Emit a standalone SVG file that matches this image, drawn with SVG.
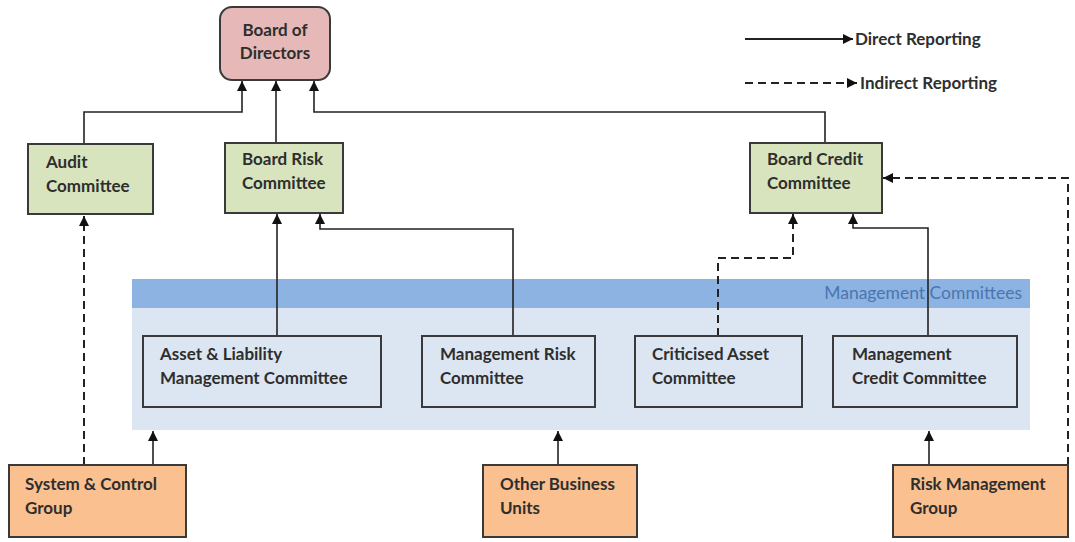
<svg xmlns="http://www.w3.org/2000/svg" width="1075" height="542" viewBox="0 0 1075 542">
<defs>
<marker id="ah" viewBox="0 0 10 10" refX="10" refY="5" markerWidth="10" markerHeight="10" markerUnits="userSpaceOnUse" orient="auto"><path d="M0,0 L10,5 L0,10 z" fill="#111"/></marker>
<style>
.t{font-family:Lato,"Liberation Sans",sans-serif;font-size:17px;font-weight:bold;fill:#2e2e2e}
.box{stroke:#3a3a3a;stroke-width:2}
.c{fill:none;stroke:#222;stroke-width:1.6}
.d{fill:none;stroke:#222;stroke-width:2;stroke-dasharray:8 5}
</style>
</defs>
<rect width="1075" height="542" fill="#fff"/>
<g id="band">
<rect x="132" y="279" width="898" height="151" fill="#dce6f2"/>
<rect x="132" y="279" width="898" height="29" fill="#8db3e2"/>
<text x="1022" y="299" text-anchor="end" style="font-family:Lato,'Liberation Sans',sans-serif;font-size:17.5px;fill:#4a76b0">Management Committees</text>
</g>
<g id="connectors">
<path class="c" d="M84,143 V112 H242 V81" marker-end="url(#ah)"/>
<path class="c" d="M276,142 V81" marker-end="url(#ah)"/>
<path class="c" d="M825,142 V112 H314 V81" marker-end="url(#ah)"/>
<path class="c" d="M277,336 V214" marker-end="url(#ah)"/>
<path class="c" d="M513,336 V229 H320 V214" marker-end="url(#ah)"/>
<path class="d" d="M718,336 V258 H793 V214" marker-end="url(#ah)"/>
<path class="c" d="M928,336 V228 H853 V214" marker-end="url(#ah)"/>
<path class="d" d="M84,465 V216" marker-end="url(#ah)"/>
<path class="c" d="M153,465 V431" marker-end="url(#ah)"/>
<path class="c" d="M558,465 V431" marker-end="url(#ah)"/>
<path class="c" d="M929,465 V431" marker-end="url(#ah)"/>
<path class="d" d="M1068,465 V178 H883" marker-end="url(#ah)"/>
</g>
<g id="legend">
<path class="c" d="M745,39 H853" marker-end="url(#ah)" style="stroke-width:2"/>
<text class="t" x="855" y="45">Direct Reporting</text>
<path class="d" d="M745,83 H857" marker-end="url(#ah)"/>
<text class="t" x="860" y="89">Indirect Reporting</text>
</g>
<g id="board">
<rect class="box" x="220" y="7" width="110" height="73" rx="12" fill="#e6b9b8"/>
<text class="t" x="275" y="36" text-anchor="middle">Board of</text>
<text class="t" x="275" y="59" text-anchor="middle">Directors</text>
</g>
<g id="audit">
<rect class="box" x="28" y="144" width="125" height="70" fill="#d7e4bd"/>
<text class="t" x="46" y="168">Audit</text>
<text class="t" x="46" y="192">Committee</text>
</g>
<g id="boardrisk">
<rect class="box" x="225" y="143" width="118" height="70" fill="#d7e4bd"/>
<text class="t" x="242" y="165">Board Risk</text>
<text class="t" x="242" y="189">Committee</text>
</g>
<g id="boardcredit">
<rect class="box" x="750" y="143" width="132" height="70" fill="#d7e4bd"/>
<text class="t" x="767" y="165">Board Credit</text>
<text class="t" x="767" y="189">Committee</text>
</g>
<g id="alm">
<rect class="box" x="143" y="336" width="238" height="71" fill="#dce6f2"/>
<text class="t" x="160" y="360">Asset &amp; Liability</text>
<text class="t" x="160" y="384">Management Committee</text>
</g>
<g id="mrc">
<rect class="box" x="422" y="336" width="173" height="71" fill="#dce6f2"/>
<text class="t" x="440" y="360">Management Risk</text>
<text class="t" x="440" y="384">Committee</text>
</g>
<g id="criticised">
<rect class="box" x="635" y="336" width="167" height="71" fill="#dce6f2"/>
<text class="t" x="652" y="360">Criticised Asset</text>
<text class="t" x="652" y="384">Committee</text>
</g>
<g id="mcc">
<rect class="box" x="833" y="336" width="184" height="71" fill="#dce6f2"/>
<text class="t" x="852" y="360">Management</text>
<text class="t" x="852" y="384">Credit Committee</text>
</g>
<g id="syscontrol">
<rect class="box" x="9" y="465" width="177" height="72" fill="#fac090"/>
<text class="t" x="25" y="490">System &amp; Control</text>
<text class="t" x="25" y="514">Group</text>
</g>
<g id="otherbu">
<rect class="box" x="483" y="465" width="154" height="72" fill="#fac090"/>
<text class="t" x="500" y="490">Other Business</text>
<text class="t" x="500" y="514">Units</text>
</g>
<g id="riskmgmt">
<rect class="box" x="893" y="465" width="175" height="72" fill="#fac090"/>
<text class="t" x="910" y="490">Risk Management</text>
<text class="t" x="910" y="514">Group</text>
</g>
</svg>
